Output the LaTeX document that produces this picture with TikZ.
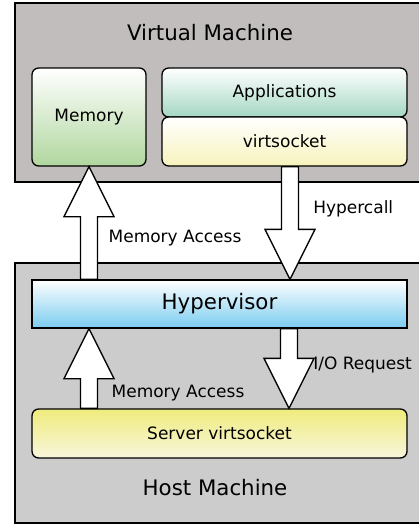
\documentclass[tikz,border=0pt]{standalone}
\usepackage{fontspec}
\setmainfont{DejaVu Sans}
\usetikzlibrary{calc}

\definecolor{vmgray}{RGB}{193,189,189}
\definecolor{hostgray}{RGB}{204,204,204}
\definecolor{memgreen}{RGB}{176,215,158}
\definecolor{appteal}{RGB}{164,215,195}
\definecolor{sockyellow}{RGB}{247,243,188}
\definecolor{srvyellow}{RGB}{239,236,125}
\definecolor{srvlight}{RGB}{248,246,220}
\definecolor{hypblue}{RGB}{122,204,240}

\tikzset{
  machine/.style={draw=black, line width=1pt},
  title/.style={font=\fontsize{16}{19}\selectfont},
  block/.style={draw=black, line width=1pt, rounded corners=5pt, inner sep=0pt,
    font=\fontsize{12.75}{15}\selectfont},
  lbl/.style={inner sep=0pt, font=\fontsize{12.75}{15}\selectfont},
  fatarrow/.style={draw=black, fill=white, line width=1pt, line join=miter},
}

% #1 = start of the shaft, #2 = tip (same x)
\newcommand{\bigarrow}[2]{%
  \draw[fatarrow] let \p1=(#1), \p2=(#2), \n1={sign(\y2-\y1)} in
    ({\x1-6.4pt},\y1) -- ({\x1-6.4pt},{\y2-\n1*37.5pt}) -- ({\x1-18.75pt},{\y2-\n1*37.5pt})
    -- (\x2,\y2) -- ({\x1+18.75pt},{\y2-\n1*37.5pt}) -- ({\x1+6.4pt},{\y2-\n1*37.5pt})
    -- ({\x1+6.4pt},\y1) -- cycle;}

\begin{document}
\begin{tikzpicture}[x=0.75pt,y=-0.75pt]
\useasboundingbox (0,0) rectangle (418,525);

\draw[machine, fill=vmgray] (15,3) rectangle (425,182);
\node[title] (vmtitle) at (210,33) {Virtual Machine};

\draw[machine, fill=hostgray] (15,263) rectangle (425,523);
\node[title] (hosttitle) at (215,488) {Host Machine};

\node[block, top color=white, bottom color=memgreen, minimum width=85.5pt, minimum height=73.5pt]
  (mem) at (89,117) {Memory};
\node[block, top color=white, bottom color=appteal, minimum width=183.75pt, minimum height=36.75pt]
  (app) at (284.5,92.5) {Applications};
\node[block, top color=white, bottom color=sockyellow, minimum width=183.75pt, minimum height=36.75pt]
  (vsock) at (284.5,141.5) {virtsocket};

\node[block, rounded corners=0pt, top color=white, bottom color=hypblue, minimum width=281.25pt, minimum height=36pt,
  font=\fontsize{16}{19}\selectfont] (hyp) at (219.5,304) {Hypervisor};
\node[block, top color=srvyellow, bottom color=srvlight, minimum width=281.25pt, minimum height=36.75pt]
  (srv) at (219.5,433.5) {Server virtsocket};

\coordinate (hc) at (vsock.south -| 290,0);
\coordinate (io) at (hyp.south -| 289,0);

\bigarrow{mem.south |- hyp.north}{mem.south}
\bigarrow{hc}{hc |- hyp.north}
\bigarrow{mem.south |- srv.north}{mem.south |- hyp.south}
\bigarrow{io}{io |- srv.north}

\node[lbl] (memacc1) at (175,238) {Memory Access};
\node[lbl, anchor=west] (hcall) at (313,209) {Hypercall};
\node[lbl] (memacc2) at (178,393) {Memory Access};
\node[lbl, anchor=west] (ioreq) at (313,365) {I/O Request};

\end{tikzpicture}
\end{document}
